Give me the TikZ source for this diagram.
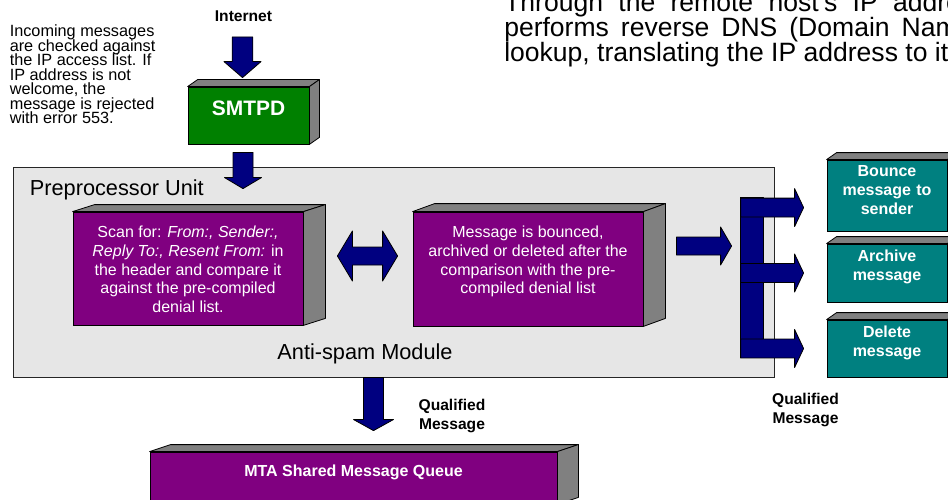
\documentclass[tikz,border=0pt]{standalone}
\usepackage{fontspec}
\setmainfont{Liberation Sans}
\usepackage{xcolor}
\definecolor{colArrow}{RGB}{0,0,128}
\definecolor{colSmtpd}{RGB}{0,128,0}
\definecolor{colQueue}{RGB}{128,0,128}
\definecolor{colAction}{RGB}{0,128,128}
\definecolor{colShade}{RGB}{128,128,128}
\definecolor{colPanel}{RGB}{230,230,230}
\usepackage{tikz}
\usetikzlibrary{positioning, calc, fit}
\newcommand{\widespace}[1]{\spaceskip=#1\relax}
\newcommand{\tightlines}{\lineskiplimit=-20pt\relax}
\tikzset{
	frontbox/.style={draw, fill=#1, inner sep=0pt, line width=0.6pt, text=white},
	sideface/.style={draw, fill=colShade, line width=0.6pt, line join=round},
	panel/.style={draw=black!85, fill=colPanel, line width=0.6pt, inner sep=0pt},
	fatarrow/.style={draw=black, fill=colArrow, line width=0.6pt, line join=round},
	arrowdims/.code args={#1/#2/#3}{\def\arrShaft{#1}\def\arrHead{#2}\def\arrTip{#3}},
	boldlabel/.style={inner sep=0pt, align=center, font=\fontsize{11.7}{14.25}\selectfont\bfseries},
	notetext/.style={inner sep=0pt, align=left, font=\fontsize{12.2}{10.9}\selectfont\tightlines},
	toptext/.style={inner sep=0pt, anchor=base west, font=\fontsize{19.9}{19.9}\selectfont},
	panellabel/.style={inner sep=0pt, font=\fontsize{16.3}{19}\selectfont},
	boxtext/.style={inner sep=0pt, align=center, text=white, font=\fontsize{12}{14.1}\selectfont},
	actiontext/.style={align=center, font=\fontsize{12}{14.25}\selectfont\bfseries},
}
% top and right faces of a box node
\newcommand{\boxdepth}[3]{%
	\draw[sideface] (#1.north west) -- ++(#2,#3) -- ([shift={(#2,#3)}]#1.north east) -- (#1.north east) -- cycle;
	\draw[sideface] (#1.north east) -- ([shift={(#2,#3)}]#1.north east) -- ([shift={(#2,#3)}]#1.south east) -- (#1.south east) -- cycle;}
% block arrows: x of start, y of end (down) / y of start, x of end (right)
\newcommand{\arrowdown}[3][]{%
	\path[fatarrow,#1] let \p1=(#2), \p2=(#3) in
		(\x1-\arrShaft,\y1) -- (\x1-\arrShaft,\y2+\arrTip) -- (\x1-\arrHead,\y2+\arrTip) -- (\x1,\y2)
		-- (\x1+\arrHead,\y2+\arrTip) -- (\x1+\arrShaft,\y2+\arrTip) -- (\x1+\arrShaft,\y1) -- cycle;}
\newcommand{\arrowright}[3][]{%
	\path[fatarrow,#1] let \p1=(#2), \p2=(#3) in
		(\x1,\y1+\arrShaft) -- (\x2-\arrTip,\y1+\arrShaft) -- (\x2-\arrTip,\y1+\arrHead) -- (\x2,\y1)
		-- (\x2-\arrTip,\y1-\arrHead) -- (\x2-\arrTip,\y1-\arrShaft) -- (\x1,\y1-\arrShaft) -- cycle;}
\newcommand{\arrowboth}[3][]{%
	\path[fatarrow,#1] let \p1=(#2), \p2=(#3) in
		(\x1,\y1) -- (\x1+\arrTip,\y1+\arrHead) -- (\x1+\arrTip,\y1+\arrShaft) -- (\x2-\arrTip,\y1+\arrShaft)
		-- (\x2-\arrTip,\y1+\arrHead) -- (\x2,\y1) -- (\x2-\arrTip,\y1-\arrHead) -- (\x2-\arrTip,\y1-\arrShaft)
		-- (\x1+\arrTip,\y1-\arrShaft) -- (\x1+\arrTip,\y1-\arrHead) -- cycle;}

\begin{document}
\begin{tikzpicture}[x=0.75pt, y=-0.75pt]
	\useasboundingbox (0,0) rectangle (948,499);
	\clip (0,0) rectangle (948,499);

	% Text at top right, running off the page
	\node[toptext] (dnsA) at (504,12) {\widespace{11.5pt}Through the remote host's IP address};
	\node[toptext] (dnsB) at (504,37) {\widespace{9pt}performs reverse DNS (Domain Name};
	\node[toptext] (dnsC) at (504,62) {lookup, translating the IP address to its};

	% Access list note
	\node[notetext, anchor=north west] (ipnote) at (9.5,24.5) {Incoming messages\\are checked against\\the IP access list. If\\IP address is not\\welcome, the\\message is rejected\\with error 553.};

	% Internet and SMTPD
	\node[boldlabel, anchor=base] (inet) at (243.5,22) {Internet};
	\node[frontbox=colSmtpd, fit={(188,87) (309,144)}, font=\fontsize{15.7}{18}\selectfont\bfseries] (smtpd) {SMTPD};
	\boxdepth{smtpd}{10}{-7}
	\arrowdown[arrowdims=7.7pt/13.9pt/12pt]{$(inet.base)+(-1,15)$}{$(smtpd.north)+(0,-9)$}

	% Preprocessor unit
	\node[panel, fit={(13,167) (774,377)}] (prepanel) {};
	\node[panellabel, anchor=base west] (prelabel) at ($(prepanel.north west)+(17,29)$) {Preprocessor Unit};
	\node[panellabel, anchor=base] (spamlabel) at ($(prepanel.south)+(-28.5,-18)$) {Anti-spam Module};
	\arrowdown[arrowdims=7.5pt/13.9pt/8.3pt]{$(smtpd.south)+(-5.5,8)$}{$(prepanel.north)+(0,22)$}

	% Scan and decide boxes
	\node[frontbox=colQueue, fit={(73,212) (303,325)}] (scanbox) {};
	\boxdepth{scanbox}{22}{-7}
	\node[boxtext, anchor=north] (scantext) at ($(scanbox.north)+(0,14)$) {Scan for: \textit{From:, Sender:,}\\\textit{Reply To:, Resent From:} in\\the header and compare it\\against the pre-compiled\\denial list.};
	\node[frontbox=colQueue, fit={(413,212) (643,326)}] (decidebox) {};
	\boxdepth{decidebox}{22}{-8}
	\node[boxtext, anchor=north] (decidetext) at ($(decidebox.north)+(0,14)$) {Message is bounced,\\archived or deleted after the\\comparison with the pre-\\compiled denial list};
	\arrowboth[arrowdims=6.75pt/18.75pt/11.25pt]{$(scanbox.east)+(34,-12.5)$}{$(decidebox.west)+(-15,0)$}

	% Actions
	\node[frontbox=colAction, fit={(827,160) (947,231)}, actiontext] (bouncebox) {Bounce\\message to\\sender};
	\boxdepth{bouncebox}{10}{-7}
	\node[frontbox=colAction, fit={(827,244) (947,302)}, actiontext] (archivebox) {Archive\\message};
	\boxdepth{archivebox}{10}{-7}
	\node[frontbox=colAction, fit={(827,320) (947,377)}, actiontext] (deletebox) {Delete\\message};
	\boxdepth{deletebox}{10}{-7}

	% Branching arrows
	\node[fatarrow, fit={(740,197) (763,349)}, inner sep=0pt] (spambar) {};
	\arrowright[arrowdims=6.75pt/14.25pt/8.25pt]{$(decidebox.east)+(33,-23)$}{$(spambar.west)+(-8,0)$}
	\arrowright[arrowdims=7.1pt/14.25pt/6.75pt]{$(spambar.north west)+(1,11)$}{$(bouncebox.west)+(-23,0)$}
	\arrowright[arrowdims=7.1pt/14.25pt/6.75pt]{$(spambar.west |- archivebox.west)+(1,0)$}{$(archivebox.west)+(-23,0)$}
	\arrowright[arrowdims=7.1pt/14.25pt/6.75pt]{$(spambar.west |- deletebox.west)+(1,0)$}{$(deletebox.west)+(-23,0)$}
	\node[boldlabel] (qualright) at (805.5,410) {Qualified\\Message};

	% Shared queue
	\node[frontbox=colQueue, fit={(150,452) (557,504)}, font=\fontsize{12}{14}\selectfont\bfseries] (mtaqueue) {MTA Shared Message Queue};
	\boxdepth{mtaqueue}{21}{-7}
	\arrowdown[arrowdims=7.5pt/15pt/8.3pt]{$(prepanel.south)+(-20,0)$}{$(mtaqueue.north)+(0,-21)$}
	\node[boldlabel] (qualdown) at (452,415.5) {Qualified\\Message};
\end{tikzpicture}
\end{document}
